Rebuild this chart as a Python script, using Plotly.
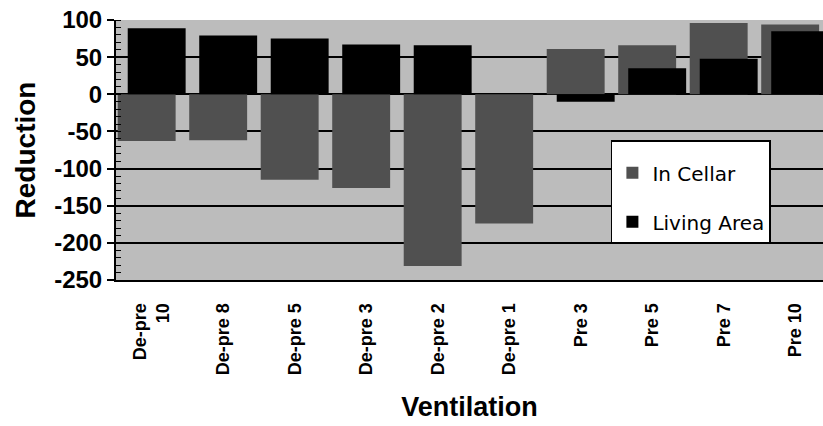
import plotly.graph_objects as go

categories = ["De-pre<br>10", "De-pre 8", "De-pre 5", "De-pre 3", "De-pre 2",
              "De-pre 1", "Pre 3", "Pre 5", "Pre 7", "Pre 10"]
in_cellar = [-63, -62, -115, -126, -231, -174, 61, 66, 96, 94]
living_area = [89, 79, 75, 67, 66, 0, -10, 35, 48, 85]
y_tickvals = [100, 50, 0, -50, -100, -150, -200, -250]
y_ticktext = ["100", "50", "0", "-50", "-100", "-150", "-200", "-250"]

x_idx = list(range(len(categories)))
FONT = "Liberation Sans, Arial, sans-serif"

fig = go.Figure()
fig.add_trace(go.Bar(
    x=x_idx, y=in_cellar, name="In Cellar", legendgroup="a",
    marker=dict(color="#505050", line=dict(width=0)),
    offset=-0.476, width=0.81,
))
fig.add_trace(go.Bar(
    x=x_idx, y=living_area, name="Living Area", legendgroup="b",
    marker=dict(color="#000000", line=dict(width=0)),
    offset=-0.336, width=0.81,
))

fig.update_layout(
    width=823, height=426,
    margin=dict(l=116, r=0, t=20, b=146),
    paper_bgcolor="white",
    plot_bgcolor="#bcbcbc",
    barmode="overlay",
    showlegend=True,
    legend=dict(
        x=0.700, y=0.538, xanchor="left", yanchor="top",
        bgcolor="white", bordercolor="black", borderwidth=1.5,
        font=dict(family="DejaVu Sans", size=20, color="black"),
        title=dict(text=" ", font=dict(size=9)),
        tracegroupgap=20,
    ),
    font=dict(family=FONT, color="black"),
)

fig.update_xaxes(
    range=[-0.5, 9.388],
    tickmode="array", tickvals=x_idx, ticktext=categories,
    tickangle=-90,
    tickfont=dict(family=FONT, size=18, color="black", weight="bold"),
    showgrid=False,
    showline=True, linecolor="black", linewidth=2,
    ticks="", ticklabelstandoff=14,
    title=dict(text="<b>Ventilation</b>", font=dict(size=27, family=FONT, color="black"),
               standoff=23),
    fixedrange=True,
)
fig.update_yaxes(
    range=[-250, 100],
    tickmode="array", tickvals=y_tickvals, ticktext=y_ticktext,
    tickfont=dict(family=FONT, size=24, color="black", weight="bold"),
    showgrid=True, gridcolor="black", gridwidth=1.5,
    zeroline=True, zerolinecolor="black", zerolinewidth=1.5,
    showline=True, linecolor="black", linewidth=2,
    ticks="outside", ticklen=7, tickcolor="black", tickwidth=1.5,
    minor=dict(tickmode="linear", tick0=0, dtick=10, ticks="inside", ticklen=5,
               tickcolor="black", tickwidth=1, showgrid=False),
    title=dict(text="<b>Reduction</b>", font=dict(size=28, family=FONT, color="black"),
               standoff=10),
    fixedrange=True,
)

fig.write_html("out.html")
